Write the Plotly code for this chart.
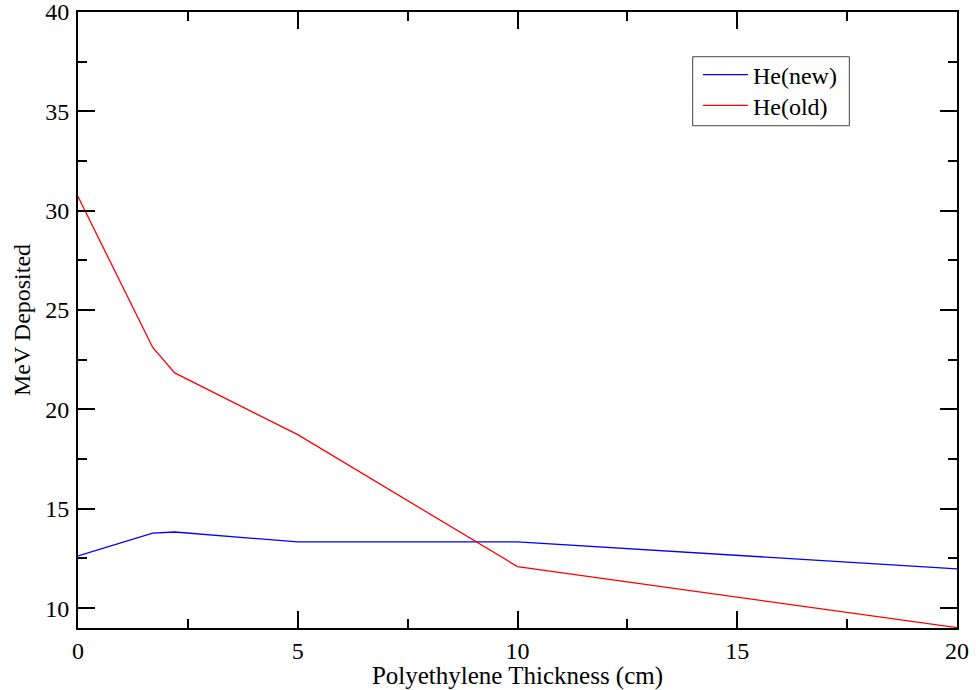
import plotly.graph_objects as go

x_new = [0, 1.7, 2.2, 5, 10, 20]
y_new = [12.63, 13.77, 13.83, 13.33, 13.33, 11.98]
x_old = [0, 1.7, 2.2, 5, 10, 20]
y_old = [30.71, 23.12, 21.84, 18.73, 12.09, 9.02]
names = ["He(new)", "He(old)"]

font = "Liberation Serif, Times New Roman, serif"

fig = go.Figure()
fig.add_trace(go.Scatter(x=x_new, y=y_new, mode="lines", name=names[0], legend="legend",
                         line=dict(color="#0000ff", width=1.3)))
fig.add_trace(go.Scatter(x=x_old, y=y_old, mode="lines", name=names[1], legend="legend2",
                         line=dict(color="#ff0000", width=1.3)))

axis_common = dict(
    showline=True, linecolor="black", linewidth=2, mirror="allticks",
    ticks="inside", ticklen=17, tickwidth=2, tickcolor="black",
    showgrid=False, zeroline=False, automargin=False, ticklabeloverflow="allow",
    tickfont=dict(family=font, size=24, color="black"),
    minor=dict(ticks="inside", ticklen=9, tickwidth=2, tickcolor="black", dtick=2.5, showgrid=False),
)

fig.update_xaxes(range=[0, 20], tick0=0, dtick=5, ticklabelstandoff=0,
                 title=dict(text="Polyethylene Thickness (cm)", font=dict(family=font, size=25, color="black"), standoff=0),
                 **axis_common)
fig.update_yaxes(range=[9, 40], tick0=0, dtick=5, ticklabelstandoff=2,
                 title=dict(text="MeV Deposited", font=dict(family=font, size=24, color="black"), standoff=8),
                 **axis_common)

leg = dict(xanchor="left", yanchor="middle", bgcolor="rgba(0,0,0,0)", borderwidth=0,
           font=dict(family=font, size=24, color="black"), itemwidth=45)

fig.update_layout(
    width=976, height=690,
    margin=dict(l=78, r=19, t=12, b=62),
    plot_bgcolor="white", paper_bgcolor="white",
    font=dict(family=font, color="black"),
    legend=dict(x=0.7053, y=0.8977, **leg),
    legend2=dict(x=0.7053, y=0.8479, **leg),
    showlegend=True,
    shapes=[dict(type="rect", xref="paper", yref="paper",
                 x0=0.6993, x1=0.8775, y0=0.8154, y1=0.9274,
                 line=dict(color="#444444", width=1), layer="above")],
)

fig.write_html("out.html", config={"displayModeBar": False},
               post_script="document.body.style.margin='0';document.body.style.overflow='hidden';")
